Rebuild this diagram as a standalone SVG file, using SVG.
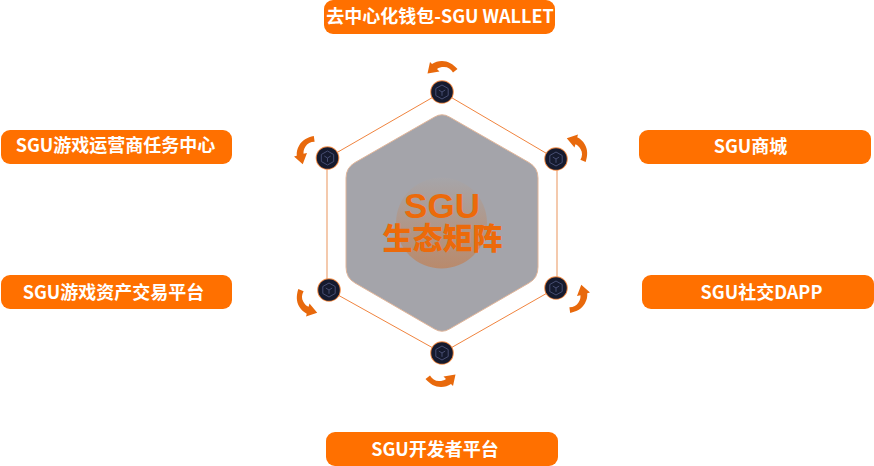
<svg xmlns="http://www.w3.org/2000/svg" width="874" height="466" viewBox="0 0 874 466">
<style>
.pill{fill:#ff7000}
.lbl{font-family:"Noto Sans CJK SC","Liberation Sans",sans-serif;font-size:18px;font-weight:700;fill:#fff;text-anchor:middle}
.latin{font-family:"Liberation Sans",sans-serif;font-weight:700;fill:#ec6a0a;text-anchor:middle}
.title{font-family:"Noto Sans CJK SC","Liberation Sans",sans-serif;font-weight:900;fill:#ec6a0a;text-anchor:middle}
.edge{stroke:#f0843f;stroke-width:1;fill:none}
.edgev{stroke:#f0b38a;stroke-width:1.4;fill:none}
.cube{fill:none;stroke:#474e72;stroke-width:1;stroke-linejoin:round}
</style>
<defs>
<linearGradient id="disc" x1="0" y1="0" x2="0" y2="1">
<stop offset="0" stop-color="#a6a5a9"/>
<stop offset="1" stop-color="#b98a6c"/>
</linearGradient>
<path id="arrow" fill="#e8690c" d="M15.500 -23C11 -28 6 -31 0 -31C-4 -31 -7 -30 -10 -28L-12 -30L-14.500 -18.500L-2.500 -20.500L-5 -23C-3 -24.500 -1 -25 2 -25C6 -25 9 -23 11 -19.500Z"/>
<g id="dot">
<circle r="11.800" fill="#f08a45"/>
<circle r="10.800" fill="#151a2e"/>
<path class="cube" d="M0 -7L6.200 -3.500V3.500L0 7L-6.200 3.500V-3.500Z"/>
<path class="cube" d="M-3.200 -2L0 0L3.200 -2M0 0V3.800"/>
</g>
</defs>
<g id="connectors">
<path class="edge" d="M442 92L556 159"/>
<path class="edgev" d="M557 159V288"/>
<path class="edge" d="M556 288L442 353"/>
<path class="edge" d="M442 353L329 290"/>
<path class="edgev" d="M327 290V158"/>
<path class="edge" d="M327.500 158L442 92"/>
</g>
<g id="center">
<path d="M434.500 117Q442 112.500 449.500 117L529 162.500Q538 167.600 538 178V267Q538 278 529 283L449.500 329Q442 333.500 434.500 329L355 283Q346 278 346 267V178Q346 167.600 355 162.500Z" fill="#a4a4aa" stroke="#e2b69a" stroke-width="1"/>
<circle cx="441.500" cy="223" r="45.500" fill="url(#disc)"/>
<text class="latin" x="442" y="218" font-size="35">SGU</text>
<text class="title" x="442.500" y="249" font-size="30">生态矩阵</text>
</g>
<g id="node-top">
<use href="#arrow" transform="translate(442 92)"/>
<use href="#dot" x="442" y="92"/>
<rect class="pill" x="324" y="0" width="231" height="34" rx="9"/>
<text class="lbl" x="440" y="22.500">去中心化钱包-SGU WALLET</text>
</g>
<g id="node-top-right">
<use href="#arrow" transform="translate(558 160) rotate(60)"/>
<use href="#dot" x="556" y="159"/>
<rect class="pill" x="639" y="130" width="232" height="34" rx="9"/>
<text class="lbl" x="750.500" y="152.500">SGU商城</text>
</g>
<g id="node-bottom-right">
<use href="#arrow" transform="translate(558 288) rotate(120)"/>
<use href="#dot" x="556" y="288"/>
<rect class="pill" x="642" y="275" width="232" height="34" rx="9"/>
<text class="lbl" x="761.500" y="299">SGU社交DAPP</text>
</g>
<g id="node-bottom">
<use href="#arrow" transform="translate(441 356) rotate(180)"/>
<use href="#dot" x="442" y="353"/>
<rect class="pill" x="326" y="432" width="232" height="34" rx="9"/>
<text class="lbl" x="435" y="456">SGU开发者平台</text>
</g>
<g id="node-bottom-left">
<use href="#arrow" transform="translate(326 291) rotate(240)"/>
<use href="#dot" x="329" y="290"/>
<rect class="pill" x="1" y="275" width="231" height="34" rx="9"/>
<text class="lbl" x="113.500" y="298.500">SGU游戏资产交易平台</text>
</g>
<g id="node-top-left">
<use href="#arrow" transform="translate(326 161) rotate(300)"/>
<use href="#dot" x="327.500" y="158"/>
<rect class="pill" x="1" y="130" width="231" height="34" rx="9"/>
<text class="lbl" x="115.500" y="152">SGU游戏运营商任务中心</text>
</g>
</svg>
